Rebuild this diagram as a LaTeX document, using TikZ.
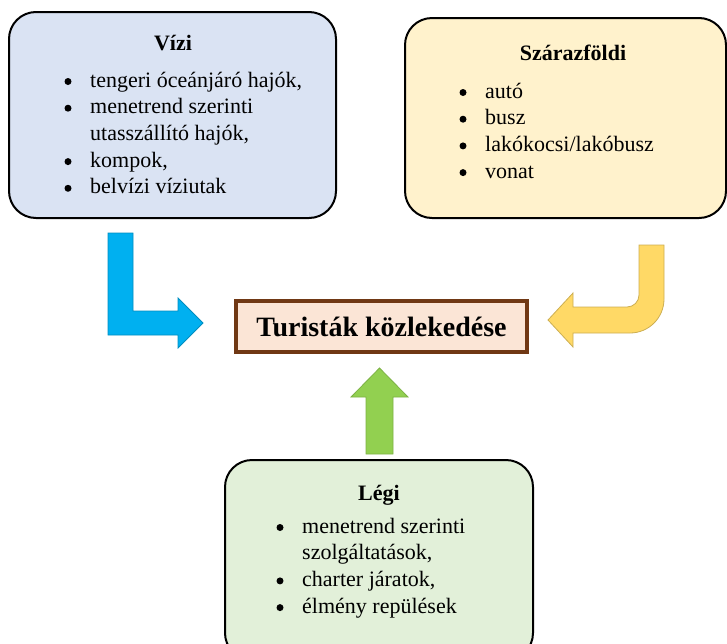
\documentclass[tikz,border=0pt]{standalone}
\usepackage{fontspec}
\setmainfont{Liberation Serif}
\usetikzlibrary{positioning, calc}

\definecolor{vizikek}{HTML}{DAE3F3}
\definecolor{szarazsarga}{HTML}{FFF2CC}
\definecolor{legizold}{HTML}{E2F0D9}
\definecolor{kozlfill}{HTML}{FBE5D6}
\definecolor{kozlbarna}{RGB}{112,56,20}
\definecolor{nyilkek}{HTML}{00B0F0}
\definecolor{nyilsarga}{HTML}{FFD966}
\definecolor{nyilzold}{HTML}{92D050}

\begin{document}
\begin{tikzpicture}[
    x=1pt, y=-1pt, % 像素坐标
    every node/.style={font=\fontsize{22}{26.7}\selectfont, inner sep=0pt}, % 统一字体
    doboz/.style={draw=black, line width=2pt, rounded corners=27pt}, % 圆角框
    cim/.style={font=\fontsize{22}{26.7}\selectfont\bfseries, anchor=base}, % 框标题
    lista/.style={anchor=base west, align=left}, % 项目列表
    pont/.style={fill=black}, % 列表圆点
    kozl/.style={draw=kozlbarna, line width=3.5pt, fill=kozlfill}, % 中心框
    nyil/.style={line width=0.8pt, line join=miter} % 粗箭头
]
    \useasboundingbox (0,0) rectangle (727,643);
    \clip (0,0) rectangle (727,643);

    % 1. 三个圆角框
    \node[doboz, fill=vizikek, minimum width=327pt, minimum height=206pt] (vizi) at (172.5,115) {};
    \node[doboz, fill=szarazsarga, minimum width=321pt, minimum height=200pt] (szaraz) at (565.5,118) {};
    \node[doboz, fill=legizold, minimum width=308pt, minimum height=200pt] (legi) at (379,560) {};

    % 2. 中心框
    \node[kozl, minimum width=291pt, minimum height=51pt, font=\fontsize{28}{32}\selectfont\bfseries] (kozlekedes) at (381.5,326.5) {Turisták közlekedése};

    % 3. 标题与列表
    \node[cim] (viziCim) at (173,50) {Vízi};
    \node[lista] (viziLista) at (90,87) {\begin{tabular}[t]{@{}l@{}}
        tengeri óceánjáró hajók,\\
        menetrend szerinti\\
        utasszállító hajók,\\
        kompok,\\
        belvízi víziutak
    \end{tabular}};

    \node[cim] (szarazCim) at (573,60) {Szárazföldi};
    \node[lista] (szarazLista) at (485,98) {\begin{tabular}[t]{@{}l@{}}
        autó\\
        busz\\
        lakókocsi/lakóbusz\\
        vonat
    \end{tabular}};

    \node[cim] (legiCim) at (379,500) {Légi};
    \node[lista] (legiLista) at (302,533) {\begin{tabular}[t]{@{}l@{}}
        menetrend szerinti\\
        szolgáltatások,\\
        charter járatok,\\
        élmény repülések
    \end{tabular}};

    % 列表圆点(按行号)
    \foreach \k in {0,1,3,4} {
        \fill[pont] (68, 81.5+26.7*\k) circle (3.5pt);
    }
    \foreach \k in {0,1,2,3} {
        \fill[pont] (463, 92.5+26.7*\k) circle (3.5pt);
    }
    \foreach \k in {0,2,3} {
        \fill[pont] (280, 527.5+26.7*\k) circle (3.5pt);
    }

    % 4. 粗箭头(蓝、黄、绿)
    \draw[nyil, draw=nyilkek!80!black, fill=nyilkek] (108,233) -- (133,233) -- (133,311) -- (178,311) -- (178,298)
        -- (203,323) -- (178,348) -- (178,335) -- (108,335) -- cycle;
    \draw[nyil, draw=nyilsarga!80!black, fill=nyilsarga] (639,245) -- (664,245) -- (664,299)
        arc[start angle=0, end angle=90, radius=34] -- (573,333) -- (573,347) -- (548,320)
        -- (573,293) -- (573,307) -- (627,307) arc[start angle=90, end angle=0, radius=12] -- cycle;
    \draw[nyil, draw=nyilzold!85!black, fill=nyilzold] (366,454) -- (366,397) -- (351,397) -- (379.5,368)
        -- (408,397) -- (393,397) -- (393,454) -- cycle;

\end{tikzpicture}
\end{document}
